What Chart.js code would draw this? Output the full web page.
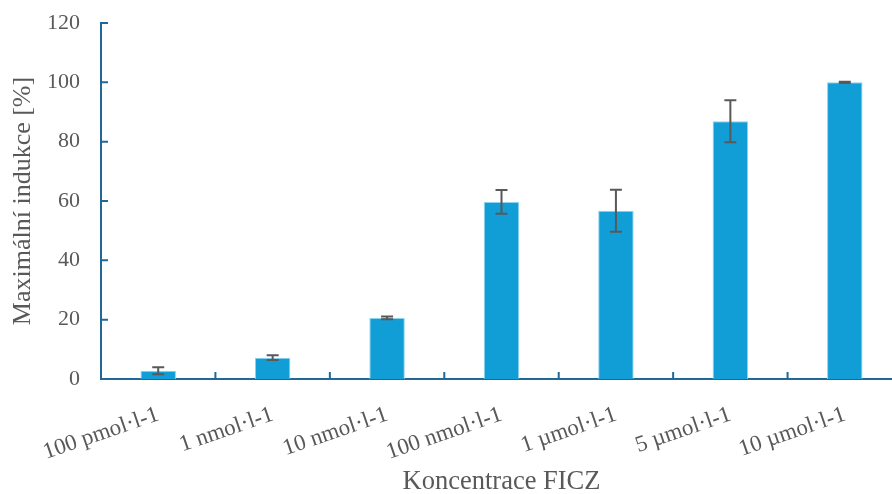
<!DOCTYPE html>
<html>
<head>
<meta charset="utf-8">
<script src="https://cdn.jsdelivr.net/npm/chart.js@4.4.0/dist/chart.umd.min.js"></script>
<style>
  html, body { margin: 0; padding: 0; background: #fff; overflow: hidden; }
  #wrap { width: 902px; height: 494px; }
</style>
</head>
<body>
<div id="wrap"><canvas id="chart" width="902" height="494"></canvas></div>
<script>
// ---------------- Data ----------------
const categories = ['100 pmol·l-1', '1 nmol·l-1', '10 nmol·l-1', '100 nmol·l-1', '1 µmol·l-1', '5 µmol·l-1', '10 µmol·l-1'];
const values = [2.8, 7.2, 20.6, 59.7, 56.7, 86.9, 100];
const errors = [1.2, 0.8, 0.5, 4.0, 7.1, 7.1, 0.2];
const yTicks = [0, 20, 40, 60, 80, 100, 120];

const axisColor = '#22679A';
const textColor = '#595959';
const serif = '"Liberation Serif", "Times New Roman", serif';

// ---------------- Error bars ----------------
const errorBars = {
    id: 'errorBars',
    afterDatasetsDraw(chart) {
        const ctx = chart.ctx, y = chart.scales.y;
        const meta = chart.getDatasetMeta(0);
        ctx.save();
        ctx.strokeStyle = '#595959';
        ctx.lineWidth = 2;
        meta.data.forEach((bar, i) => {
            if (!errors[i]) return;
            const top = y.getPixelForValue(values[i] + errors[i]);
            const bot = y.getPixelForValue(values[i] - errors[i]);
            ctx.beginPath();
            ctx.moveTo(bar.x, top); ctx.lineTo(bar.x, bot);
            ctx.moveTo(bar.x - 6, top); ctx.lineTo(bar.x + 6, top);
            ctx.moveTo(bar.x - 6, bot); ctx.lineTo(bar.x + 6, bot);
            ctx.stroke();
        });
        ctx.restore();
    }
};

// ---------------- Inward ticks ----------------
const innerTicks = {
    id: 'innerTicks',
    afterDraw(chart) {
        const ctx = chart.ctx, x = chart.scales.x, y = chart.scales.y;
        const area = chart.chartArea;
        ctx.save();
        ctx.strokeStyle = axisColor;
        ctx.lineWidth = 2;
        ctx.beginPath();
        y.ticks.forEach((t, i) => {
            const py = y.getPixelForTick(i);
            ctx.moveTo(area.left, py); ctx.lineTo(area.left + 7, py);
        });
        for (let i = 1; i < categories.length; i++) {
            const px = (x.getPixelForTick(i - 1) + x.getPixelForTick(i)) / 2;
            ctx.moveTo(px, area.bottom); ctx.lineTo(px, area.bottom - 7);
        }
        ctx.stroke();
        ctx.restore();
    }
};

new Chart(document.getElementById('chart'), {
    type: 'bar',
    data: {
        labels: categories,
        datasets: [{
            data: values,
            backgroundColor: '#119ED7',
            borderColor: '#8ED3EF',
            borderWidth: 1,
            categoryPercentage: 1,
            barPercentage: 0.31
        }]
    },
    options: {
        responsive: false,
        animation: false,
        layout: { padding: { top: 23, right: 0, left: 0, bottom: 0 } },
        plugins: { legend: { display: false }, tooltip: { enabled: false } },
        scales: {
            x: {
                grid: { display: false, drawTicks: false },
                border: { color: axisColor, width: 2 },
                ticks: {
                    color: textColor,
                    font: { family: serif, size: 23 },
                    minRotation: 19, maxRotation: 19,
                    padding: 22
                },
                title: {
                    display: true, text: 'Koncentrace FICZ',
                    color: textColor,
                    font: { family: serif, size: 26.5 },
                    padding: { top: 0, bottom: -4 }
                },
                afterFit(scale) {
                    scale.height = 115;
                    scale.paddingLeft = 0; scale.paddingRight = 0;
                }
            },
            y: {
                min: 0, max: 120,
                afterBuildTicks(scale) { scale.ticks = yTicks.map(v => ({ value: v })); },
                grid: { display: false, drawTicks: false },
                border: { color: axisColor, width: 2 },
                ticks: {
                    color: textColor,
                    font: { family: serif, size: 22 },
                    padding: 21
                },
                title: {
                    display: true, text: 'Maximální indukce [%]',
                    color: textColor,
                    font: { family: serif, size: 26 },
                    padding: { top: 8, bottom: 0 }
                },
                afterFit(scale) {
                    scale.width = 101;
                    scale.paddingTop = 0; scale.paddingBottom = 0;
                }
            }
        }
    },
    plugins: [errorBars, innerTicks]
});
</script>
</body>
</html>
